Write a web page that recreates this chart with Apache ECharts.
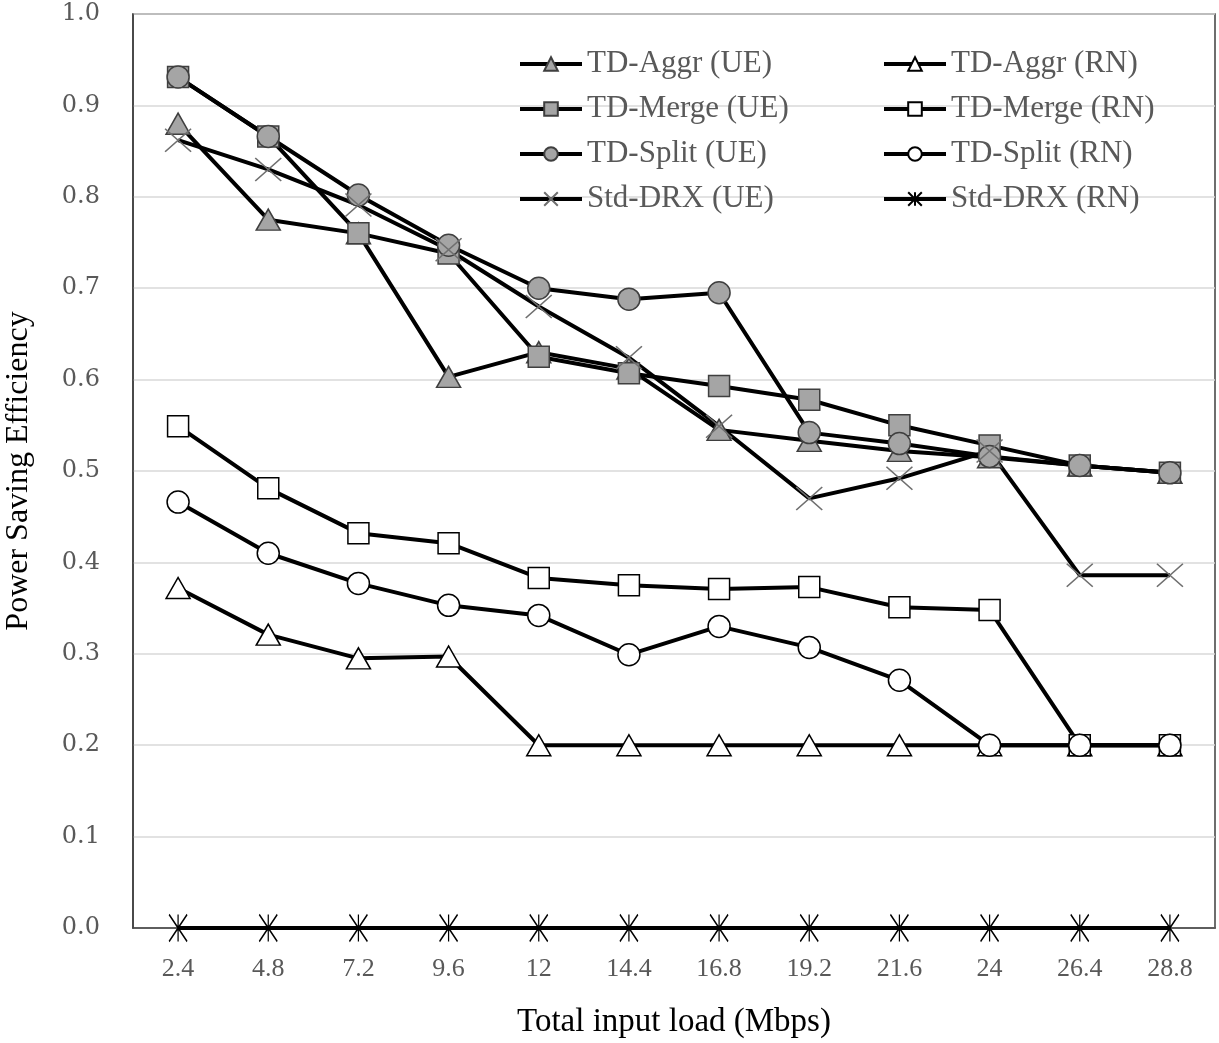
<!DOCTYPE html>
<html>
<head>
<meta charset="utf-8">
<title>Power Saving Efficiency</title>
<script src="https://cdn.jsdelivr.net/npm/echarts@6/dist/echarts.min.js"></script>
<style>
	html, body { margin: 0; padding: 0; background: #fff; }
	#js-chart { width: 1219px; height: 1043px; }
</style>
</head>
<body>
<div id="js-chart"></div>
<script>
var loads = ['2.4', '4.8', '7.2', '9.6', '12', '14.4', '16.8', '19.2', '21.6', '24', '26.4', '28.8'];
var yTicks = [0, 0.1, 0.2, 0.3, 0.4, 0.5, 0.6, 0.7, 0.8, 0.9, 1.0];

var aggrUE  = [0.880, 0.775, 0.760, 0.603, 0.630, 0.612, 0.545, 0.533, 0.522, 0.515, 0.506, 0.498];
var aggrRN  = [0.372, 0.321, 0.295, 0.297, 0.200, 0.200, 0.200, 0.200, 0.200, 0.200, 0.200, 0.200];
var mergeUE = [0.931, 0.866, 0.760, 0.738, 0.625, 0.607, 0.593, 0.578, 0.550, 0.528, 0.506, 0.498];
var mergeRN = [0.549, 0.481, 0.432, 0.421, 0.383, 0.375, 0.371, 0.373, 0.351, 0.348, 0.200, 0.200];
var splitUE = [0.931, 0.866, 0.802, 0.747, 0.700, 0.688, 0.695, 0.542, 0.530, 0.516, 0.506, 0.498];
var splitRN = [0.466, 0.410, 0.377, 0.353, 0.342, 0.299, 0.330, 0.307, 0.271, 0.200, 0.200, 0.200];
var drxUE   = [0.862, 0.830, 0.791, 0.742, 0.680, 0.624, 0.549, 0.470, 0.492, 0.522, 0.386, 0.386];
var drxRN   = [0, 0, 0, 0, 0, 0, 0, 0, 0, 0, 0, 0];

var serif = '"Liberation Serif", "Times New Roman", serif';
var wideSerif = '"DejaVu Serif", serif';
var crossPath = 'path://M0,0L10,9M10,0L0,9';
var starPath = 'path://M5,0L5,14M1,0L9,14M9,0L1,14';

initChart();

function mkSeries(name, data, symbol, size, fill, border, bw){
	return {
		name: name,
		type: 'line',
		data: data,
		symbol: symbol,
		symbolSize: size,
		showAllSymbol: true,
		lineStyle: { color: '#000', width: 4 },
		itemStyle: { color: fill, borderColor: border, borderWidth: bw },
		emphasis: { disabled: true }
	};
}

function legendCol(left, names){
	return {
		orient: 'vertical', left: left, top: 41,
		itemWidth: 62, itemHeight: 17, itemGap: 9,
		lineStyle: { width: 4, color: '#000' },
		textStyle: { fontFamily: serif, fontSize: 31, color: '#595959', lineHeight: 36 },
		data: names
	};
}

function initChart(){
	var chart = echarts.init(document.getElementById('js-chart'));
	var gray = '#a5a5a5', edge = '#3f3f3f';
	var option = {
		animation: false,
		backgroundColor: '#fff',
		grid: {
			left: 133, right: 4, top: 14, bottom: 115,
			outerBoundsMode: 'none',
			containLabel: false,
			show: true, borderColor: '#3f3f3f', borderWidth: 1.5
		},
		legend: [
			legendCol(513, ['TD-Aggr (UE)', 'TD-Merge (UE)', 'TD-Split (UE)', 'Std-DRX (UE)']),
			legendCol(877, ['TD-Aggr (RN)', 'TD-Merge (RN)', 'TD-Split (RN)', 'Std-DRX (RN)'])
		],
		xAxis: {
			type: 'category',
			data: loads,
			boundaryGap: true,
			name: 'Total input load (Mbps)',
			nameLocation: 'middle',
			nameGap: 78,
			nameTextStyle: { fontFamily: serif, fontSize: 33, color: '#000' },
			axisLine: { show: true, lineStyle: { color: '#3f3f3f', width: 1.5 } },
			axisTick: { show: false },
			axisLabel: { fontFamily: serif, fontSize: 26, color: '#595959', margin: 28 }
		},
		yAxis: {
			type: 'value',
			min: yTicks[0],
			max: yTicks[yTicks.length - 1],
			interval: 0.1,
			name: 'Power Saving Efficiency',
			nameLocation: 'middle',
			nameGap: 98,
			nameTextStyle: { fontFamily: serif, fontSize: 32, color: '#000' },
			axisLine: { show: true, lineStyle: { color: '#3f3f3f', width: 1.5 } },
			axisTick: { show: false },
			splitLine: { lineStyle: { color: '#d9d9d9', width: 1.5 } },
			axisLabel: {
				fontFamily: wideSerif, fontSize: 24, color: '#595959', margin: 33,
				formatter: function(v){ return v.toFixed(1); }
			}
		},
		series: [
			mkSeries('TD-Aggr (UE)', aggrUE, 'triangle', [24, 21], gray, edge, 1.5),
			mkSeries('TD-Aggr (RN)', aggrRN, 'triangle', [24, 21], '#fff', '#000', 1.5),
			mkSeries('TD-Merge (UE)', mergeUE, 'rect', 21, gray, edge, 1.5),
			mkSeries('TD-Merge (RN)', mergeRN, 'rect', 21, '#fff', '#000', 1.5),
			mkSeries('TD-Split (UE)', splitUE, 'circle', 22, gray, edge, 1.5),
			mkSeries('TD-Split (RN)', splitRN, 'circle', 22, '#fff', '#000', 1.5),
			mkSeries('Std-DRX (UE)', drxUE, crossPath, [26, 23], 'none', '#6f6f6f', 1.5),
			mkSeries('Std-DRX (RN)', drxRN, starPath, [18, 27], 'none', '#000', 1.5)
		]
	};
	chart.setOption(option);
}
</script>
</body>
</html>
